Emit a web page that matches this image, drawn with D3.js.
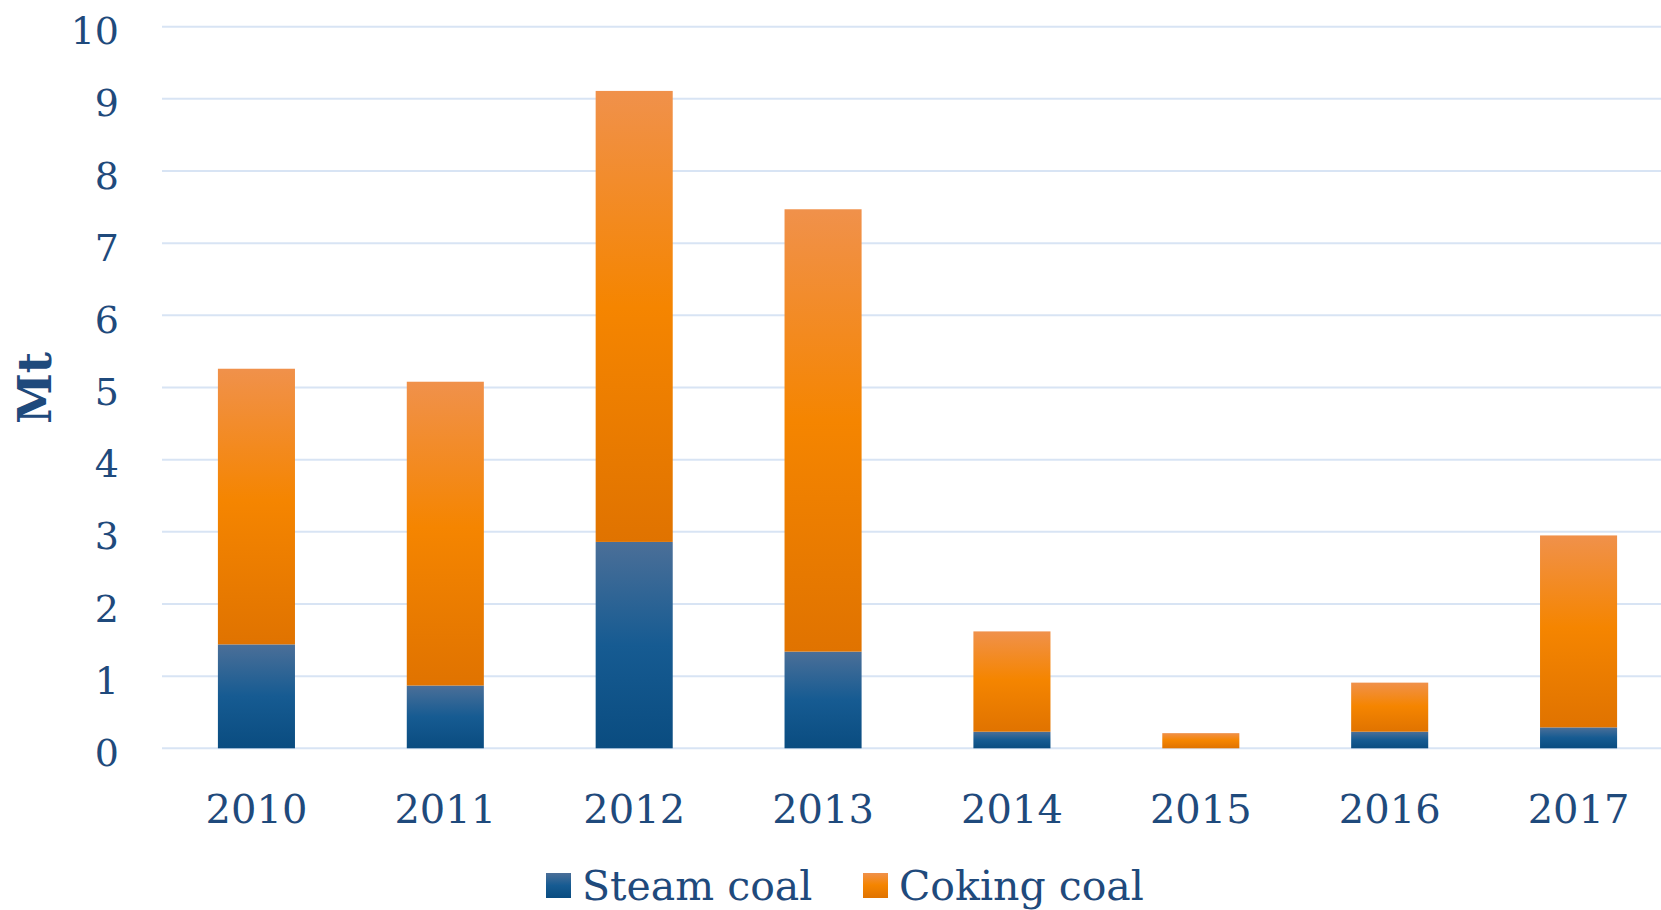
<!DOCTYPE html>
<html>
<head>
<meta charset="utf-8">
<script src="https://cdn.jsdelivr.net/npm/d3@7"></script>
<style>
  html, body { margin: 0; padding: 0; background: #fff; overflow: hidden; }
  svg { display: block; }
  text { font-family: Georgia, "DejaVu Serif", serif; fill: #1f4a7c; }
</style>
</head>
<body>
<div id="chart"></div>
<script>
var years = ["2010", "2011", "2012", "2013", "2014", "2015", "2016", "2017"];
var steamCoal = [1.44, 0.87, 2.86, 1.34, 0.23, 0, 0.23, 0.29];
var cokingCoal = [3.82, 4.21, 6.25, 6.13, 1.39, 0.21, 0.68, 2.66];
var seriesNames = ["Steam coal", "Coking coal"];
var yTicks = [0, 1, 2, 3, 4, 5, 6, 7, 8, 9, 10];

var width = 1661,
  height = 910;
var plot = { left: 162, right: 1673, top: 26.7, bottom: 748.3 };

var svg = d3
  .select("#chart")
  .append("svg")
  .attr("width", width)
  .attr("height", height);

var x = d3
  .scaleBand()
  .domain(years)
  .range([plot.left, plot.right])
  .paddingInner(0.592)
  .paddingOuter(0.296);

var y = d3.scaleLinear().domain([0, 10]).range([plot.bottom, plot.top]);

// gradients, same look as the office chart fills
var defs = svg.append("defs");
function addGradient(id, stops) {
  var g = defs
    .append("linearGradient")
    .attr("id", id)
    .attr("x1", 0)
    .attr("y1", 0)
    .attr("x2", 0)
    .attr("y2", 1);
  stops.forEach(function (s) {
    g.append("stop").attr("offset", s[0]).attr("stop-color", s[1]);
  });
}
addGradient("steam", [
  [0, "#4b6f98"],
  [0.5, "#165b92"],
  [1, "#0a4c80"],
]);
addGradient("coking", [
  [0, "#f0914b"],
  [0.48, "#f58500"],
  [1, "#e07300"],
]);
var fills = ["url(#steam)", "url(#coking)"];

// gridlines
svg
  .append("g")
  .attr("class", "grid")
  .selectAll("line")
  .data(yTicks)
  .enter()
  .append("line")
  .attr("x1", plot.left)
  .attr("x2", plot.right)
  .attr("y1", function (d) {
    return y(d);
  })
  .attr("y2", function (d) {
    return y(d);
  })
  .attr("stroke", "#d8e4f4")
  .attr("stroke-width", 2);

// stacked bars
var rows = years.map(function (yr, i) {
  return { year: yr, steam: steamCoal[i], coking: cokingCoal[i] };
});
var stack = d3.stack().keys(["steam", "coking"]);
var layers = stack(rows);

svg
  .append("g")
  .selectAll("g")
  .data(layers)
  .enter()
  .append("g")
  .attr("fill", function (d, i) {
    return fills[i];
  })
  .selectAll("rect")
  .data(function (d) {
    return d;
  })
  .enter()
  .append("rect")
  .attr("x", function (d) {
    return x(d.data.year);
  })
  .attr("width", x.bandwidth())
  .attr("y", function (d) {
    return y(d[1]);
  })
  .attr("height", function (d) {
    return y(d[0]) - y(d[1]);
  });

// y axis labels
var yAxis = d3.axisLeft(y).tickValues(yTicks).tickSize(0).tickPadding(0);
var yg = svg
  .append("g")
  .attr("transform", "translate(119,0)")
  .call(yAxis);
yg.select(".domain").remove();
yg.selectAll("text")
  .attr("font-size", "38px")
  .attr("font-family", 'Georgia, "DejaVu Serif", serif')
  .attr("fill", "#1f4a7c")
  .attr("dy", "0.45em");

// x axis labels
var xAxis = d3.axisBottom(x).tickSize(0).tickPadding(0);
var xg = svg
  .append("g")
  .attr("transform", "translate(0," + plot.bottom + ")")
  .call(xAxis);
xg.select(".domain").remove();
xg.selectAll("text")
  .attr("font-size", "40px")
  .attr("font-family", 'Georgia, "DejaVu Serif", serif')
  .attr("fill", "#1f4a7c")
  .attr("y", 75)
  .attr("dy", 0);

// axis title
svg
  .append("text")
  .attr("transform", "translate(51,388) rotate(-90)")
  .attr("text-anchor", "middle")
  .attr("font-size", "46px")
  .attr("font-weight", "bold")
  .text("Mt");

// legend
var legendX = [546, 863];
var legend = svg
  .append("g")
  .selectAll("g")
  .data(seriesNames)
  .enter()
  .append("g")
  .attr("transform", function (d, i) {
    return "translate(" + legendX[i] + ",873)";
  });
legend
  .append("rect")
  .attr("width", 25)
  .attr("height", 25)
  .attr("fill", function (d, i) {
    return fills[i];
  });
legend
  .append("text")
  .attr("x", 36)
  .attr("y", 27)
  .attr("font-size", "41px")
  .text(function (d) {
    return d;
  });
</script>
</body>
</html>
